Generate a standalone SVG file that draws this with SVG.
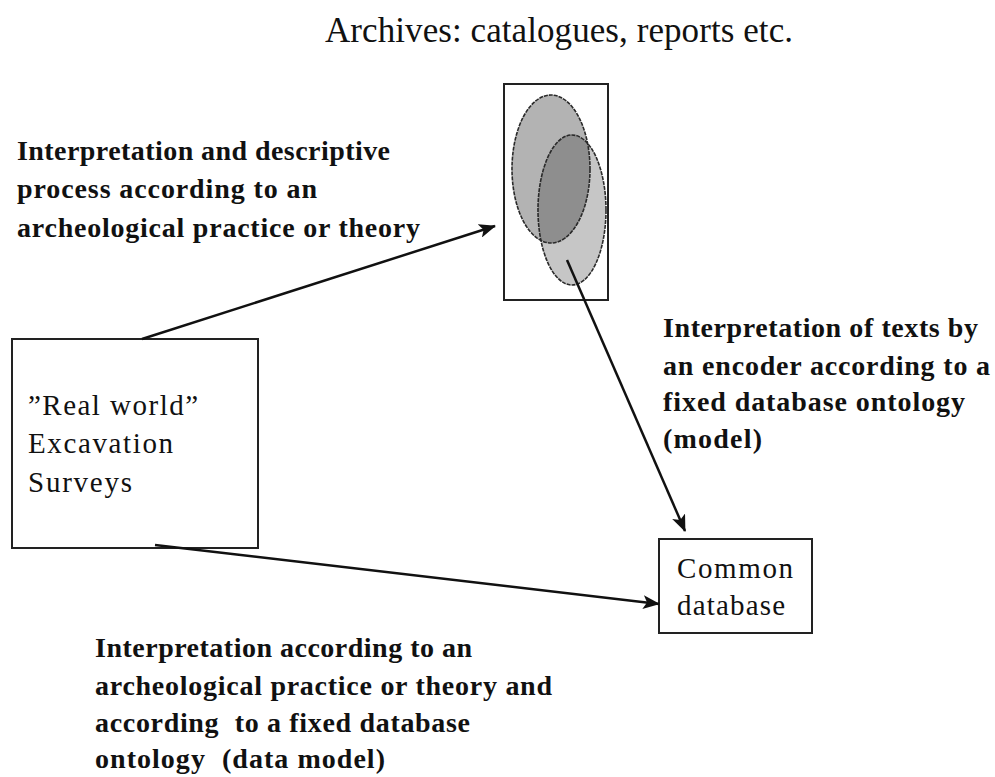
<svg xmlns="http://www.w3.org/2000/svg" width="995" height="777" viewBox="0 0 995 777">
<style>
.t{font-family:"Liberation Serif","Times New Roman",serif;fill:#111}
.b{font-weight:bold;font-size:28px}
.r{font-size:29px}
.box{fill:#fff;stroke:#222;stroke-width:2}
.edge{stroke:#111;stroke-width:2.5;fill:none;marker-end:url(#ah)}
.ell{fill:none;stroke:#2a2a2a;stroke-width:1.6;stroke-dasharray:4 1}
</style>
<defs>
<marker id="ah" markerUnits="userSpaceOnUse" markerWidth="18" markerHeight="14" refX="16" refY="7" orient="auto">
<path d="M0,0 L17,7 L0,14 L4,7 Z" fill="#111"/>
</marker>
<clipPath id="c2"><ellipse cx="572" cy="210" rx="34" ry="75"/></clipPath>
</defs>
<rect width="995" height="777" fill="#fff"/>

<g id="title"><text class="t" x="325" y="42" font-size="35" textLength="468" lengthAdjust="spacing">Archives: catalogues, reports etc.</text></g>

<g id="archives">
<rect class="box" x="504" y="84" width="104" height="216"/>
<ellipse cx="551" cy="169" rx="39" ry="74" fill="#b3b3b3"/>
<ellipse cx="572" cy="210" rx="34" ry="75" fill="#c6c6c6"/>
<ellipse cx="551" cy="169" rx="39" ry="74" fill="#8e8e8e" clip-path="url(#c2)"/>
<ellipse class="ell" cx="551" cy="169" rx="39" ry="74"/>
<ellipse class="ell" cx="572" cy="210" rx="34" ry="75"/>
</g>

<g id="realworld">
<rect class="box" x="12" y="339" width="246" height="209"/>
<text class="t r" x="28" y="415" textLength="170" lengthAdjust="spacing">”Real world”</text>
<text class="t r" x="28" y="453" textLength="145" lengthAdjust="spacing">Excavation</text>
<text class="t r" x="28" y="492" textLength="104" lengthAdjust="spacing">Surveys</text>
</g>

<g id="database">
<rect class="box" x="659" y="539" width="153" height="94"/>
<text class="t r" x="677" y="578" textLength="116" lengthAdjust="spacing">Common</text>
<text class="t r" x="677" y="615" textLength="108" lengthAdjust="spacing">database</text>
</g>

<g id="connectors">
<line class="edge" x1="142" y1="339" x2="495" y2="226"/>
<line class="edge" x1="567" y1="260" x2="685" y2="531"/>
<line class="edge" x1="155" y1="545" x2="659" y2="604"/>
</g>

<g id="label-top-left">
<text class="t b" x="17" y="160" textLength="373" lengthAdjust="spacing">Interpretation and descriptive</text>
<text class="t b" x="17" y="198" textLength="300" lengthAdjust="spacing">process according to an</text>
<text class="t b" x="17" y="237" textLength="403" lengthAdjust="spacing">archeological practice or theory</text>
</g>

<g id="label-right">
<text class="t b" x="663" y="337" textLength="315" lengthAdjust="spacing">Interpretation of texts by</text>
<text class="t b" x="663" y="375" textLength="327" lengthAdjust="spacing">an encoder according to a</text>
<text class="t b" x="663" y="411" textLength="302" lengthAdjust="spacing">fixed database ontology</text>
<text class="t b" x="663" y="448" textLength="99" lengthAdjust="spacing">(model)</text>
</g>

<g id="label-bottom">
<text class="t b" x="95" y="657" textLength="377" lengthAdjust="spacing">Interpretation according to an</text>
<text class="t b" x="95" y="695" textLength="457" lengthAdjust="spacing">archeological practice or theory and</text>
<text class="t b" x="95" y="732" textLength="375" lengthAdjust="spacing" xml:space="preserve">according  to a fixed database</text>
<text class="t b" x="95" y="768" textLength="290" lengthAdjust="spacing" xml:space="preserve">ontology  (data model)</text>
</g>
</svg>
